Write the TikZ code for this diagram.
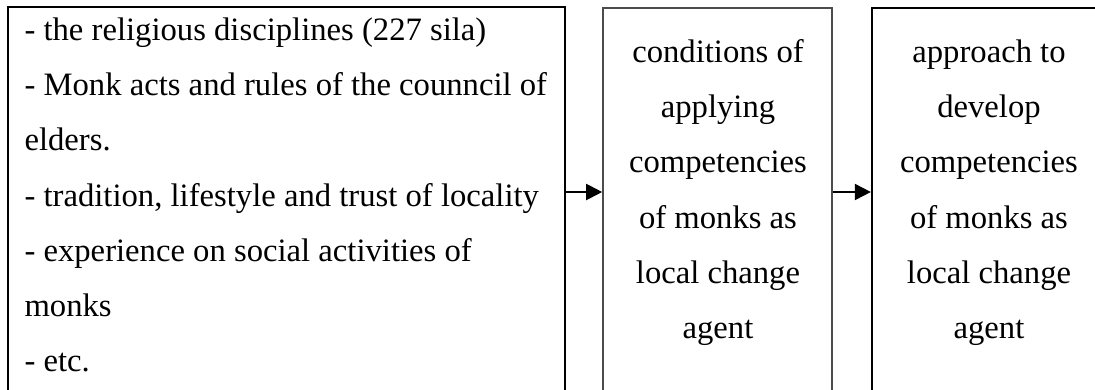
\documentclass[tikz,border=0pt]{standalone}
\usepackage{fontspec}
\setmainfont{Liberation Serif}
\usetikzlibrary{arrows.meta,fit}
\newcommand{\firstrule}{\rule{0pt}{9pt}}
\tikzset{
  every picture/.style={line join=miter, >={Triangle[length=6pt,width=6pt]}},
  framebox/.style={draw=black, line width=0.85pt, inner sep=0pt},
  lightbox/.style={draw=black!70, line width=0.6pt, inner sep=0pt},
  linetext/.style={inner sep=0pt, font=\fontsize{12.25}{20.7}\selectfont},
  flow/.style={->, line width=0.75pt},
}

\begin{document}
\begin{tikzpicture}[x=0.375pt,y=-0.375pt]
\clip (0,0) rectangle (1095,389);
\node[framebox,fit={(8,7) (565,430)}] (factors) {};
\node[lightbox,fit={(603,8) (832,430)}] (conditions) {};
\node[framebox,fit={(872,8) (1120,430)}] (approach) {};
\coordinate (arrowy) at (0,192);
\node[linetext,anchor=north west,align=left] (factorstext) at (24,16)
  {\firstrule- the religious disciplines (227 sila)\\
   - Monk acts and rules of the counncil of\\
   elders.\\
   - tradition, lifestyle and trust of locality\\
   - experience on social activities of\\
   monks\\
   - etc.};
\node[linetext,anchor=north,align=center] (conditionstext) at (718,38)
  {\firstrule conditions of\\applying\\competencies\\of monks as\\local change\\agent};
\node[linetext,anchor=north,align=center] (approachtext) at (989,38)
  {\firstrule approach to\\develop\\competencies\\of monks as\\local change\\agent};
\draw[flow] (factors.east |- arrowy) -- (conditions.west |- arrowy);
\draw[flow] (conditions.east |- arrowy) -- (approach.west |- arrowy);
\end{tikzpicture}
\end{document}
